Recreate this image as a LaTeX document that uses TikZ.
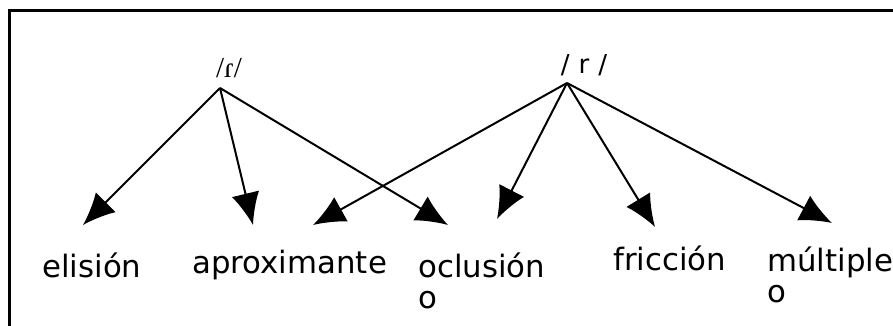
\documentclass[tikz,border=0pt]{standalone}
\usepackage{fontspec}
\setmainfont{DejaVu Sans}
\newfontfamily\ipafont{Liberation Serif}
\usetikzlibrary{arrows.meta}

\begin{document}
\begin{tikzpicture}[x=0.5pt, y=-0.5pt,
  lbl/.style={inner sep=0pt, anchor=base west, align=left,
              font=\fontsize{15.4}{15.5}\selectfont},
  edge/.style={-{Latex[length=16pt,width=14pt]}, line width=1pt, draw=black},
  frame/.style={line width=1.5pt, draw=black}
]
\useasboundingbox (0,0) rectangle (893,326);
% frame: only top and left edges show
\draw[frame] (893,11) -- (9,11) -- (9,326);

% the two phonemes
\node[inner sep=0pt, font=\ipafont\fontsize{14.5}{16}\selectfont] (tap) at (229,68) {/ɾ/};
\node[inner sep=0pt, font=\fontsize{13}{15}\selectfont] (trill) at (584,65) {/\hspace{0.35em}r\hspace{0.35em}/};
\coordinate (tapA) at (220,88);
\coordinate (trillA) at (567,83);

% realisations (two-line labels sit on their last baseline)
\node[lbl] (elis) at (42,277)  {elisión};
\node[lbl] (aprox) at (192,273) {aproximante};
\node[lbl] (oclus) at (418,308) {oclusión\\o};
\node[lbl] (fric) at (613,270) {fricción};
\node[lbl] (mult) at (767,302) {múltiple\\o};

% arrow tips
\coordinate (tElis) at (83,225);
\coordinate (tAproxA) at (253,225);
\coordinate (tOclusA) at (448,225);
\coordinate (tAproxB) at (313,225);
\coordinate (tOclusB) at (497,219);
\coordinate (tFric) at (655,227);
\coordinate (tMult) at (832,223);

% /ɾ/
\draw[edge] (tapA) -- (tElis);
\draw[edge] (tapA) -- (tAproxA);
\draw[edge] (tapA) -- (tOclusA);
% /r/
\draw[edge] (trillA) -- (tAproxB);
\draw[edge] (trillA) -- (tOclusB);
\draw[edge] (trillA) -- (tFric);
\draw[edge] (trillA) -- (tMult);
\end{tikzpicture}
\end{document}
